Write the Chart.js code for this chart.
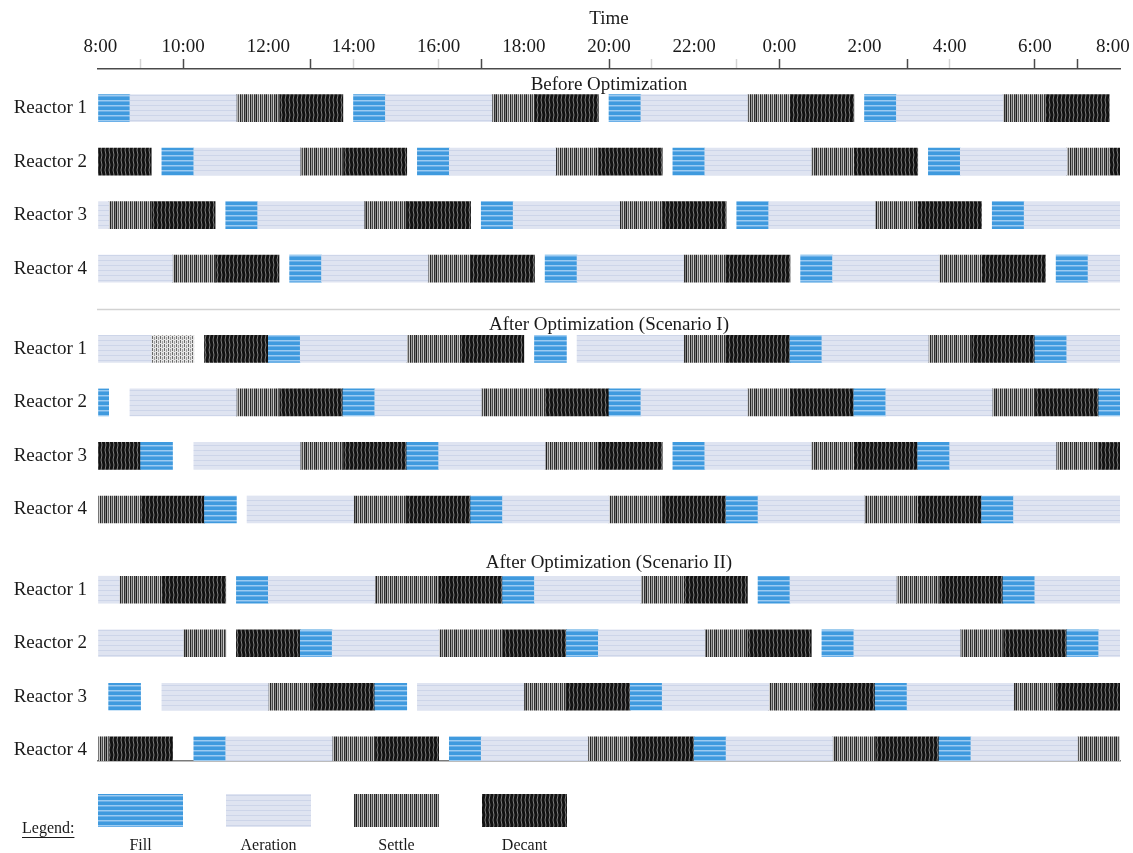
<!DOCTYPE html>
<html>
<head>
<meta charset="utf-8">
<title>SBR cycle schedule</title>
<script src="https://cdn.jsdelivr.net/npm/chart.js@4.4.1/dist/chart.umd.min.js"></script>
<style>
  html, body { margin: 0; padding: 0; background: #ffffff; }
  #wrap { width: 1133px; height: 853px; }
</style>
</head>
<body>
<div id="wrap"><canvas id="c" width="1133" height="853"></canvas></div>
<script>
// Time runs in hours from 08:00 (0) to 08:00 the following day (24).
const timeLabels = ['8:00', '10:00', '12:00', '14:00', '16:00', '18:00', '20:00',
                    '22:00', '0:00', '2:00', '4:00', '6:00', '8:00'];
const scenarios = ['Before Optimization', 'After Optimization (Scenario I)', 'After Optimization (Scenario II)'];
const reactors = ['Reactor 1', 'Reactor 2', 'Reactor 3', 'Reactor 4'];
const phaseNames = { F: 'Fill', A: 'Aeration', S: 'Settle', D: 'Decant' };

// Each segment: [start hour, end hour, phase]. 'L' is a settle period shown with a faint hatch.
const before_R1 = [[0, 0.75, 'F'], [0.75, 3.25, 'A'], [3.25, 4.25, 'S'], [4.25, 5.75, 'D'],
  [6, 6.75, 'F'], [6.75, 9.25, 'A'], [9.25, 10.25, 'S'], [10.25, 11.75, 'D'],
  [12, 12.75, 'F'], [12.75, 15.25, 'A'], [15.25, 16.25, 'S'], [16.25, 17.75, 'D'],
  [18, 18.75, 'F'], [18.75, 21.25, 'A'], [21.25, 22.25, 'S'], [22.25, 23.75, 'D']];
const before_R2 = [[0, 1.25, 'D'], [1.5, 2.25, 'F'], [2.25, 4.75, 'A'], [4.75, 5.75, 'S'], [5.75, 7.25, 'D'],
  [7.5, 8.25, 'F'], [8.25, 10.75, 'A'], [10.75, 11.75, 'S'], [11.75, 13.25, 'D'],
  [13.5, 14.25, 'F'], [14.25, 16.75, 'A'], [16.75, 17.75, 'S'], [17.75, 19.25, 'D'],
  [19.5, 20.25, 'F'], [20.25, 22.75, 'A'], [22.75, 23.75, 'S'], [23.75, 24, 'D']];
const before_R3 = [[0, 0.25, 'A'], [0.25, 1.25, 'S'], [1.25, 2.75, 'D'],
  [3, 3.75, 'F'], [3.75, 6.25, 'A'], [6.25, 7.25, 'S'], [7.25, 8.75, 'D'],
  [9, 9.75, 'F'], [9.75, 12.25, 'A'], [12.25, 13.25, 'S'], [13.25, 14.75, 'D'],
  [15, 15.75, 'F'], [15.75, 18.25, 'A'], [18.25, 19.25, 'S'], [19.25, 20.75, 'D'],
  [21, 21.75, 'F'], [21.75, 24, 'A']];
const before_R4 = [[0, 1.75, 'A'], [1.75, 2.75, 'S'], [2.75, 4.25, 'D'],
  [4.5, 5.25, 'F'], [5.25, 7.75, 'A'], [7.75, 8.75, 'S'], [8.75, 10.25, 'D'],
  [10.5, 11.25, 'F'], [11.25, 13.75, 'A'], [13.75, 14.75, 'S'], [14.75, 16.25, 'D'],
  [16.5, 17.25, 'F'], [17.25, 19.75, 'A'], [19.75, 20.75, 'S'], [20.75, 22.25, 'D'],
  [22.5, 23.25, 'F'], [23.25, 24, 'A']];

const scen1_R1 = [[0, 1.25, 'A'], [1.25, 2.25, 'L'], [2.5, 4, 'D'], [4, 4.75, 'F'],
  [4.75, 7.25, 'A'], [7.25, 8.5, 'S'], [8.5, 10, 'D'], [10.25, 11, 'F'],
  [11.25, 13.75, 'A'], [13.75, 14.75, 'S'], [14.75, 16.25, 'D'], [16.25, 17, 'F'],
  [17, 19.5, 'A'], [19.5, 20.5, 'S'], [20.5, 22, 'D'], [22, 22.75, 'F'], [22.75, 24, 'A']];
const scen1_R2 = [[0, 0.25, 'F'], [0.75, 3.25, 'A'], [3.25, 4.25, 'S'], [4.25, 5.75, 'D'], [5.75, 6.5, 'F'],
  [6.5, 9, 'A'], [9, 10.5, 'S'], [10.5, 12, 'D'], [12, 12.75, 'F'],
  [12.75, 15.25, 'A'], [15.25, 16.25, 'S'], [16.25, 17.75, 'D'], [17.75, 18.5, 'F'],
  [18.5, 21, 'A'], [21, 22, 'S'], [22, 23.5, 'D'], [23.5, 24, 'F']];
const scen1_R3 = [[0, 1, 'D'], [1, 1.75, 'F'], [2.25, 4.75, 'A'], [4.75, 5.75, 'S'], [5.75, 7.25, 'D'],
  [7.25, 8, 'F'], [8, 10.5, 'A'], [10.5, 11.75, 'S'], [11.75, 13.25, 'D'],
  [13.5, 14.25, 'F'], [14.25, 16.75, 'A'], [16.75, 17.75, 'S'], [17.75, 19.25, 'D'],
  [19.25, 20, 'F'], [20, 22.5, 'A'], [22.5, 23.5, 'S'], [23.5, 24, 'D']];
const scen1_R4 = [[0, 1, 'S'], [1, 2.5, 'D'], [2.5, 3.25, 'F'], [3.5, 6, 'A'], [6, 7.25, 'S'],
  [7.25, 8.75, 'D'], [8.75, 9.5, 'F'], [9.5, 12, 'A'], [12, 13.25, 'S'], [13.25, 14.75, 'D'],
  [14.75, 15.5, 'F'], [15.5, 18, 'A'], [18, 19.25, 'S'], [19.25, 20.75, 'D'],
  [20.75, 21.5, 'F'], [21.5, 24, 'A']];

const scen2_R1 = [[0, 0.5, 'A'], [0.5, 1.5, 'S'], [1.5, 3, 'D'], [3.25, 4, 'F'],
  [4, 6.5, 'A'], [6.5, 8, 'S'], [8, 9.5, 'D'], [9.5, 10.25, 'F'],
  [10.25, 12.75, 'A'], [12.75, 13.75, 'S'], [13.75, 15.25, 'D'], [15.5, 16.25, 'F'],
  [16.25, 18.75, 'A'], [18.75, 19.75, 'S'], [19.75, 21.25, 'D'], [21.25, 22, 'F'], [22, 24, 'A']];
const scen2_R2 = [[0, 2, 'A'], [2, 3, 'S'], [3.25, 4.75, 'D'], [4.75, 5.5, 'F'],
  [5.5, 8, 'A'], [8, 9.5, 'S'], [9.5, 11, 'D'], [11, 11.75, 'F'],
  [11.75, 14.25, 'A'], [14.25, 15.25, 'S'], [15.25, 16.75, 'D'], [17, 17.75, 'F'],
  [17.75, 20.25, 'A'], [20.25, 21.25, 'S'], [21.25, 22.75, 'D'], [22.75, 23.5, 'F'], [23.5, 24, 'A']];
const scen2_R3 = [[0.25, 1, 'F'], [1.5, 4, 'A'], [4, 5, 'S'], [5, 6.5, 'D'], [6.5, 7.25, 'F'],
  [7.5, 10, 'A'], [10, 11, 'S'], [11, 12.5, 'D'], [12.5, 13.25, 'F'],
  [13.25, 15.75, 'A'], [15.75, 16.75, 'S'], [16.75, 18.25, 'D'], [18.25, 19, 'F'],
  [19, 21.5, 'A'], [21.5, 22.5, 'S'], [22.5, 24, 'D']];
const scen2_R4 = [[0, 0.25, 'S'], [0.25, 1.75, 'D'], [2.25, 3, 'F'], [3, 5.5, 'A'], [5.5, 6.5, 'S'],
  [6.5, 8, 'D'], [8.25, 9, 'F'], [9, 11.5, 'A'], [11.5, 12.5, 'S'], [12.5, 14, 'D'],
  [14, 14.75, 'F'], [14.75, 17.25, 'A'], [17.25, 18.25, 'S'], [18.25, 19.75, 'D'],
  [19.75, 20.5, 'F'], [20.5, 23, 'A'], [23, 24, 'S']];

const blocks = [
  [before_R1, before_R2, before_R3, before_R4],
  [scen1_R1, scen1_R2, scen1_R3, scen1_R4],
  [scen2_R1, scen2_R2, scen2_R3, scen2_R4]
];

// Row layout on the vertical value axis: one unit per reactor, blocks 4.5 units apart.
const BLOCK_STEP = 4.5;
const rowValue = (b, r) => b * BLOCK_STEP + r;
const rowLabels = {};
const rowValues = [];
blocks.forEach((rows, b) => rows.forEach((_, r) => {
  rowValues.push(rowValue(b, r));
  rowLabels[rowValue(b, r)] = reactors[r];
}));

// Hour ticks on the time axis: some drawn dark, some pale, the rest hidden.
const darkTickHours = [2, 5, 9, 12, 16, 19, 22, 23];
const paleTickHours = [1, 6, 8, 13, 15, 20];

const canvas = document.getElementById('c');
const ctx2d = canvas.getContext('2d');

function tile(w, h, paint) {
  const t = document.createElement('canvas');
  t.width = w; t.height = h;
  paint(t.getContext('2d'), w, h);
  return ctx2d.createPattern(t, 'repeat');
}
const fillPattern = tile(4, 5, (g, w, h) => {
  g.fillStyle = '#3f9ade'; g.fillRect(0, 0, w, h);
  g.fillStyle = '#9ccbf1'; g.fillRect(0, 0, w, 1);
  g.fillStyle = '#6cb0e8'; g.fillRect(0, 1, w, 1);
});
const aerationPattern = tile(4, 5, (g, w, h) => {
  g.fillStyle = '#dfe4f1'; g.fillRect(0, 0, w, h);
  g.fillStyle = '#cdd5e9'; g.fillRect(0, 0, w, 1);
});
const settlePattern = tile(10, 4, (g, w, h) => {
  ['#242424', '#9c9c9c', '#4a4a4a', '#c8c8c8', '#303030', '#7e7e7e', '#1e1e1e', '#b4b4b4', '#5a5a5a', '#d0d0d0']
    .forEach((c, i) => { g.fillStyle = c; g.fillRect(i, 0, 1, h); });
});
const faintSettlePattern = tile(4, 4, (g, w, h) => {
  g.fillStyle = '#e4e4e4'; g.fillRect(0, 0, w, h);
  g.fillStyle = '#6a6a6a'; g.fillRect(0, 0, 1, 3);
  g.fillStyle = '#a0a0a0'; g.fillRect(2, 1, 1, 3);
});
// Decant: near-black with thin pale, slightly wavy verticals
const decantPattern = tile(4, 10, (g, w, h) => {
  g.fillStyle = '#121212'; g.fillRect(0, 0, w, h);
  g.strokeStyle = '#9a9a9a'; g.lineWidth = 0.8;
  g.beginPath();
  g.moveTo(1, 0); g.lineTo(2, 5); g.lineTo(1, 10);
  g.stroke();
});
const phasePatterns = { F: fillPattern, A: aerationPattern, S: settlePattern, D: decantPattern };

// Split every segment into one dataset per phase.
const points = { F: [], A: [], S: [], D: [] };
blocks.forEach((rows, b) => rows.forEach((segs, r) => segs.forEach(([start, end, phase]) => {
  const key = phase === 'L' ? 'S' : phase;
  points[key].push({ x: [start, end], y: rowValue(b, r), faint: phase === 'L' });
})));

const datasets = ['A', 'F', 'S', 'D'].map(k => ({
  label: phaseNames[k],
  data: points[k],
  backgroundColor: k === 'S'
    ? (c) => (c.raw && c.raw.faint ? faintSettlePattern : settlePattern)
    : phasePatterns[k],
  borderWidth: 0,
  barThickness: 27,
  grouped: false
}));

const SERIF = '"Liberation Serif", "Times New Roman", serif';
const INK = '#1a1a1a';

const overlay = {
  id: 'overlay',
  afterDraw(chart) {
    const { ctx, chartArea: a, scales: { y } } = chart;
    ctx.save();

    // Rule under the first block
    const ruleY = Math.round(y.getPixelForValue(3.75)) + 0.5;
    ctx.strokeStyle = '#d2d2d2';
    ctx.lineWidth = 1.5;
    ctx.beginPath();
    ctx.moveTo(a.left - 1, ruleY);
    ctx.lineTo(a.right, ruleY);
    ctx.stroke();

    // Block headings
    ctx.fillStyle = INK;
    ctx.font = '19px ' + SERIF;
    ctx.textAlign = 'center';
    ctx.textBaseline = 'middle';
    const headingOffsets = [-0.44, -0.44, -0.5];
    scenarios.forEach((t, b) => {
      ctx.fillText(t, (a.left + a.right) / 2, y.getPixelForValue(b * BLOCK_STEP + headingOffsets[b]));
    });

    // Key
    ctx.font = '16px ' + SERIF;
    ctx.textAlign = 'left';
    ctx.textBaseline = 'alphabetic';
    ctx.fillText('Legend:', 22, 833);
    const lw = ctx.measureText('Legend:').width;
    ctx.strokeStyle = INK;
    ctx.lineWidth = 1;
    ctx.beginPath();
    ctx.moveTo(22, 837.5);
    ctx.lineTo(22 + lw, 837.5);
    ctx.stroke();

    ctx.textAlign = 'center';
    ['F', 'A', 'S', 'D'].forEach((k, i) => {
      const x0 = a.left + i * 128;
      ctx.fillStyle = phasePatterns[k];
      ctx.fillRect(x0, 794, 85, 33);
      ctx.fillStyle = INK;
      ctx.fillText(phaseNames[k], x0 + 42.5, 850);
    });
    ctx.restore();
  }
};

new Chart(ctx2d, {
  type: 'bar',
  data: { datasets },
  options: {
    indexAxis: 'y',
    responsive: false,
    animation: false,
    events: [],
    layout: { padding: { top: 0, left: 0, right: 13, bottom: 92 } },
    plugins: { legend: { display: false }, tooltip: { enabled: false } },
    scales: {
      x: {
        type: 'linear',
        position: 'top',
        min: 0,
        max: 24,
        afterBuildTicks: (s) => { s.ticks = Array.from({ length: 25 }, (_, h) => ({ value: h })); },
        ticks: {
          autoSkip: false,
          maxRotation: 0,
          padding: 1,
          color: INK,
          font: { family: SERIF, size: 19 },
          callback: (v) => {
            if (v % 2 !== 0) return '';
            const t = timeLabels[v / 2];
            // nudge the two end labels inward so they stay on the canvas
            if (v === 0) return '\u00a0' + t;
            if (v === 24) return t + '\u00a0\u00a0\u00a0';
            return t;
          }
        },
        grid: {
          drawOnChartArea: false,
          drawTicks: true,
          tickLength: 10,
          tickWidth: 1.5,
          tickColor: (c) => {
            const h = c.tick ? c.tick.value : -1;
            if (darkTickHours.includes(h)) return '#4a4a4a';
            if (paleTickHours.includes(h)) return '#d4d4d4';
            return 'rgba(0,0,0,0)';
          }
        },
        border: { display: true, color: '#4a4a4a', width: 1.5 },
        title: {
          display: true,
          text: 'Time',
          color: INK,
          font: { family: SERIF, size: 19 },
          padding: { top: 8, bottom: 0 }
        },
        afterFit: (s) => { s.height = 69; s.paddingLeft = 0; s.paddingRight = 0; }
      },
      x2: {
        type: 'linear',
        position: 'bottom',
        min: 0,
        max: 24,
        ticks: { display: false },
        grid: { drawOnChartArea: false, drawTicks: false, color: 'rgba(0,0,0,0)' },
        border: { display: true, color: '#7a7a7a', width: 1.5 },
        afterFit: (s) => { s.height = 0; s.paddingLeft = 0; s.paddingRight = 0; }
      },
      y: {
        type: 'linear',
        reverse: true,
        offset: false,
        min: -0.73,
        max: 12.2,
        afterBuildTicks: (s) => { s.ticks = rowValues.map(v => ({ value: v })); },
        ticks: {
          autoSkip: false,
          padding: 11,
          color: INK,
          font: { family: SERIF, size: 19 },
          callback: (v) => rowLabels[v] || ''
        },
        grid: { display: false, offset: false, drawTicks: false, tickLength: 0 },
        border: { display: false },
        afterFit: (s) => { s.width = 98; s.paddingTop = 0; s.paddingBottom = 0; }
      }
    }
  },
  plugins: [overlay]
});
</script>
</body>
</html>
